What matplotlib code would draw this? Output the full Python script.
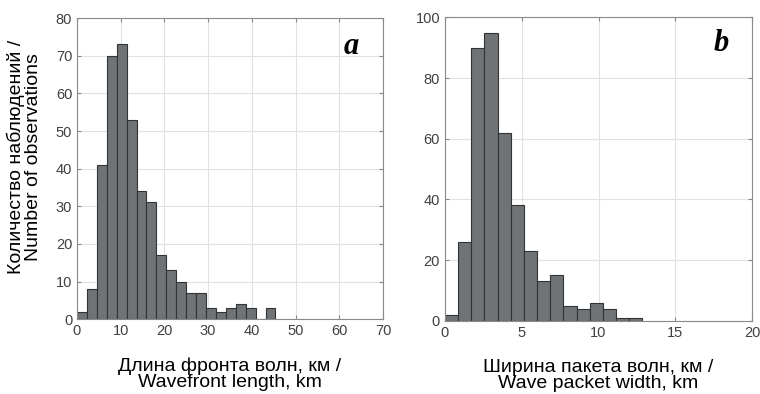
import numpy as np
import matplotlib.pyplot as plt

plt.rcParams['font.family'] = ['Liberation Sans', 'DejaVu Sans']

# wavefront length histogram (km)
front_bin_width = 2.27
front_counts = [2, 8, 41, 70, 73, 53, 34, 31, 17, 13, 10, 7, 7, 3, 2, 3, 4, 3, 0, 3]
front_xticks = [0, 10, 20, 30, 40, 50, 60, 70]
front_yticks = [0, 10, 20, 30, 40, 50, 60, 70, 80]

# wave packet width histogram (km)
packet_bin_width = 0.857
packet_counts = [2, 26, 90, 95, 62, 38, 23, 13, 15, 5, 4, 6, 4, 1, 1]
packet_xticks = [0, 5, 10, 15, 20]
packet_yticks = [0, 20, 40, 60, 80, 100]

bar_color = '#707375'
edge_color = '#303436'
tick_color = '#404040'


def draw_hist(ax, counts, bin_width, xticks, yticks, xlabel, letter, letter_pos):
    left_edges = np.arange(len(counts)) * bin_width
    ax.bar(left_edges, counts, width=bin_width, align='edge',
           color=bar_color, edgecolor=edge_color, linewidth=0.8, zorder=2)
    ax.set_xlim(xticks[0], xticks[-1])
    ax.set_ylim(yticks[0], yticks[-1])
    ax.set_xticks(xticks)
    ax.set_yticks(yticks)
    ax.grid(True, color='#e2e2e2', linewidth=0.8, zorder=0)
    ax.set_axisbelow(True)
    ax.tick_params(direction='in', length=3, top=True, right=True,
                   labelsize=10.5, colors='#888888', labelcolor=tick_color)
    for s in ax.spines.values():
        s.set_color('#8a8a8a')
        s.set_linewidth(0.8)
    ax.set_xlabel(xlabel, fontsize=14, linespacing=0.95, labelpad=14)
    ax.text(letter_pos[0], letter_pos[1], letter, transform=ax.transAxes,
            ha='center', va='center', fontsize=22, fontweight='bold',
            fontstyle='italic', family='Liberation Serif')


fig = plt.figure(figsize=(7.6, 3.94), dpi=100)
ax1 = fig.add_axes([0.1013, 0.190, 0.4026, 0.764])
ax2 = fig.add_axes([0.5855, 0.186, 0.404, 0.770])

draw_hist(ax1, front_counts, front_bin_width, front_xticks, front_yticks,
          'Длина фронта волн, км /\nWavefront length, km', 'a', (0.895, 0.905))
draw_hist(ax2, packet_counts, packet_bin_width, packet_xticks, packet_yticks,
          'Ширина пакета волн, км /\nWave packet width, km', 'b', (0.90, 0.915))

ax1.set_ylabel('Количество наблюдений /\nNumber of observations',
               fontsize=14, linespacing=0.95)
ax1.yaxis.set_label_coords(-0.115, 0.54)

fig.savefig('out.png', dpi=100)
